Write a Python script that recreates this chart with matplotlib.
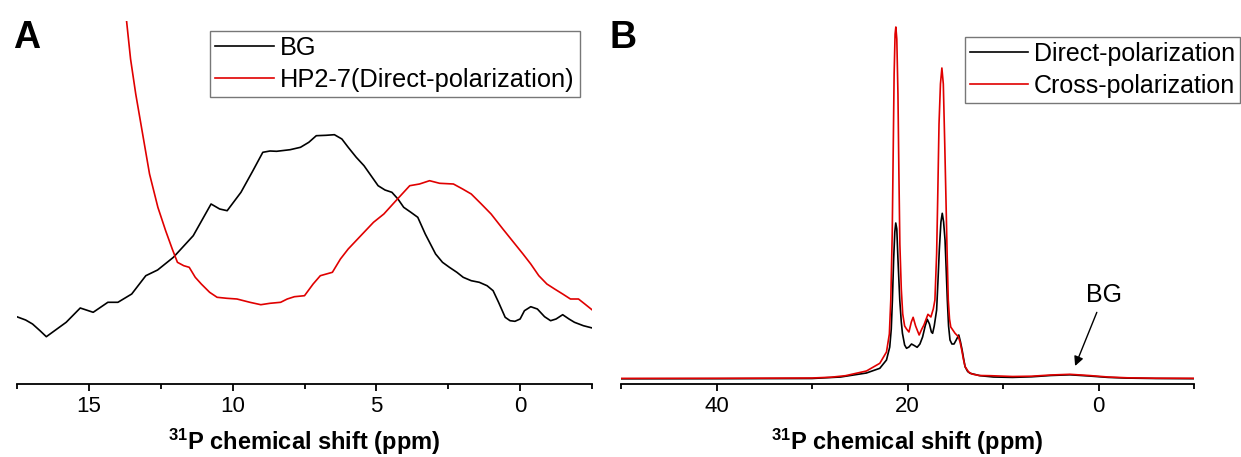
import matplotlib.pyplot as plt
import numpy as np

plt.rcParams['font.family'] = ['Liberation Sans', 'DejaVu Sans']
plt.rcParams['mathtext.fontset'] = 'custom'
plt.rcParams['mathtext.rm'] = 'Liberation Sans'
plt.rcParams['mathtext.bf'] = 'Liberation Sans:bold'

# ---- panel A data (ppm, arbitrary intensity)
bg_ppm = [17.51, 17.2, 16.96, 16.7, 16.48, 15.79, 15.30, 14.85, 14.34, 13.99, 13.51, 13.02,
          12.61, 12.06, 11.37, 10.75, 10.45, 10.19, 9.71, 9.3, 8.95, 8.7, 8.47, 8.0, 7.64,
          7.35, 7.09, 6.75, 6.46, 6.2, 5.98, 5.7, 5.43, 4.94, 4.7, 4.46, 4.25, 4.05, 3.8,
          3.56, 3.3, 2.94, 2.7, 2.46, 2.2, 1.98, 1.7, 1.42, 1.15, 0.94, 0.75, 0.52, 0.35,
          0.18, 0.0, -0.15, -0.37, -0.6, -0.85, -1.06, -1.25, -1.48, -1.7, -1.89, -2.2, -2.51]
bg_int = [67.3, 64, 60, 53.3, 47.3, 61.7, 76, 71.7, 81.7, 81.7, 90, 108.3,
          114, 126.7, 148.3, 180, 175, 173.3, 191.7, 213, 231.7, 233, 232.7, 234.3, 236.7,
          241.7, 248.3, 248.7, 249.3, 245, 236.7, 226.7, 218.3, 198.3, 194, 191.7, 185, 176.7, 171.7,
          166.7, 150, 130, 121.7, 116.7, 111.7, 106.7, 103.3, 101.7, 98.3, 93.3, 81.7, 66.7, 63.3,
          62.7, 65, 73.3, 77.3, 75, 67.3, 63.3, 65, 69.3, 65, 61.7, 58.3, 56]

hp_ppm = [13.8, 13.69, 13.55, 13.37, 12.89, 12.6, 12.33, 12.1, 11.92, 11.7, 11.51, 11.3,
          11.09, 10.8, 10.54, 10.2, 9.85, 9.4, 9.02, 8.7, 8.33, 8.1, 7.85, 7.5, 7.2, 6.95,
          6.53, 6.25, 5.98, 5.43, 5.1, 4.74, 4.32, 3.84, 3.5, 3.15, 2.8, 2.32, 2.0, 1.70,
          1.35, 1.01, 0.6, 0.18, -0.1, -0.37, -0.65, -0.93, -1.2, -1.48, -1.75, -2.03, -2.25, -2.51]
hp_int = [420, 363.3, 325, 290, 210, 176.7, 153.3, 135, 121.7, 118.3, 116.7, 106.7,
          100, 91.7, 86.7, 85.7, 85, 81.7, 79.3, 80.7, 81.7, 85, 87.3, 88.3, 100, 108.3,
          111.7, 125, 135, 151.7, 161.7, 170, 183.3, 198.3, 200, 203.3, 200.7, 200, 195, 190,
          180, 170, 155, 140, 130, 120, 108.3, 100, 95, 90, 85, 85, 80, 74]

# ---- panel B data
dp_ppm = [50, 40, 30, 27, 24.3, 22.9, 22.2, 21.86, 21.7, 21.58, 21.45, 21.33, 21.23, 21.12,
          21.0, 20.81, 20.65, 20.53, 20.3, 20.1, 19.85, 19.58, 19.3, 18.99, 18.7, 18.42, 18.15,
          17.93, 17.7, 17.5, 17.37, 17.2, 16.95, 16.8, 16.67, 16.5, 16.36, 16.22, 16.07, 15.95,
          15.83, 15.7, 15.55, 15.35, 15.13, 14.9, 14.63, 14.45, 14.28, 14.1, 13.97, 13.7, 13.44,
          12.4, 11, 9, 7, 5, 3, 1, -1, -3, -6, -10]
dp_int = [5.2, 5.3, 5.5, 7, 11, 15.7, 24, 37, 55, 84, 125, 152, 161, 155,
          125, 84, 62, 50.7, 39, 35.7, 37, 40, 38.5, 36.7, 40, 47, 58,
          64.7, 60, 52, 50.7, 58, 74, 105, 134, 162, 170.7, 162, 144, 115,
          84, 58, 44, 40, 40, 44, 49, 42, 34, 24, 17.3, 12.5, 10.7,
          8.3, 7, 6.6, 7.2, 8.5, 9.2, 8, 6.6, 5.9, 5.5, 5.3]

cp_ppm = [50, 40, 30, 28, 26.5, 24.3, 22.9, 22.2, 21.9, 21.75, 21.6, 21.5, 21.4, 21.3, 21.22,
          21.12, 21.0, 20.9, 20.8, 20.65, 20.5, 20.3, 20.1, 19.85, 19.6, 19.41, 19.15, 18.78,
          18.5, 18.28, 17.86, 17.55, 17.3, 17.13, 16.95, 16.84, 16.7, 16.55, 16.4, 16.25, 16.1,
          15.97, 15.85, 15.73, 15.6, 15.47, 15.02, 14.67, 14.5, 14.32, 14.15, 13.97, 13.6, 13.26,
          12.5, 11.3, 9, 7, 5, 3, 1, -1, -3, -6, -10]
cp_int = [5.6, 5.7, 6, 6.8, 8.3, 13, 20.7, 32, 50, 84, 150, 230, 310, 350, 357,
          345, 290, 210, 140, 95, 70, 58, 55, 52, 62, 66.7, 58, 49,
          55, 59, 69.7, 67, 75, 84, 130, 184, 260, 300, 316, 300, 240,
          184, 130, 84, 65, 57, 50.7, 47.3, 42, 34, 25, 17.3, 12, 10,
          8.5, 8.3, 7.5, 7.8, 9, 9.7, 8.5, 7, 6.2, 5.8, 5.7]

fig = plt.figure(figsize=(12.41, 4.57), dpi=100)
W, H = 1241.0, 457.0
axA = fig.add_axes([17/W, 1-384/H, (592-17)/W, (384-21)/H])
axB = fig.add_axes([621/W, 1-384/H, (1194-621)/W, (384-21)/H])

axA.plot(bg_ppm, bg_int, '-', color='black', lw=1.2, label='BG')
axA.plot(hp_ppm, hp_int, '-', color='#e00000', lw=1.2, label='HP2-7(Direct-polarization)')
axA.set_xlim(17.5, -2.5)
axA.set_ylim(0, 363)
axA.set_xticks([15, 10, 5, 0])
axA.set_xticks([17.5, 12.5, 7.5, 2.5, -2.5], minor=True)

axB.plot(dp_ppm, dp_int, '-', color='black', lw=1.2, label='Direct-polarization')
axB.plot(cp_ppm, cp_int, '-', color='#e00000', lw=1.2, label='Cross-polarization')
axB.set_xlim(50, -10)
axB.set_ylim(0, 363)
axB.set_xticks([40, 20, 0])
axB.set_xticks([50, 30, 10, -10], minor=True)
axB.annotate('BG', xy=(2.45, 18), xytext=(-0.56, 89), ha='center', va='center', fontsize=18,
             arrowprops=dict(arrowstyle='-|>', color='black', lw=1.0, mutation_scale=14,
                             shrinkA=2, shrinkB=0))

for ax in [axA, axB]:
    for s in ['left', 'right', 'top']:
        ax.spines[s].set_visible(False)
    ax.spines['bottom'].set_linewidth(1.3)
    ax.set_yticks([])
    ax.tick_params(axis='x', which='major', direction='out', length=5, width=1.3, labelsize=16, pad=4)
    ax.tick_params(axis='x', which='minor', direction='out', length=3.5, width=1.3)
    ax.set_xlabel(r'$\mathbf{^{31}}$P chemical shift (ppm)', fontsize=17, fontweight='bold', labelpad=7)

legA = axA.legend(loc='upper right', bbox_to_anchor=(580/W, 1-31/H), bbox_transform=fig.transFigure,
                  borderaxespad=0, fontsize=18.3, frameon=True, fancybox=False, handlelength=2.3,
                  handletextpad=0.25, labelspacing=0.3, borderpad=0.2)
legB = axB.legend(loc='upper right', bbox_to_anchor=(1240/W, 1-37/H), bbox_transform=fig.transFigure,
                  borderaxespad=0, fontsize=18, frameon=True, fancybox=False, handlelength=2.3,
                  handletextpad=0.25, labelspacing=0.3, borderpad=0.2)
for leg in [legA, legB]:
    leg.get_frame().set_edgecolor('#555555')
    leg.get_frame().set_linewidth(1.0)

fig.text(13/W, 1-20/H, 'A', fontsize=27, fontweight='bold', ha='left', va='top')
fig.text(609/W, 1-20/H, 'B', fontsize=27, fontweight='bold', ha='left', va='top')

fig.savefig('out.png', dpi=100)
